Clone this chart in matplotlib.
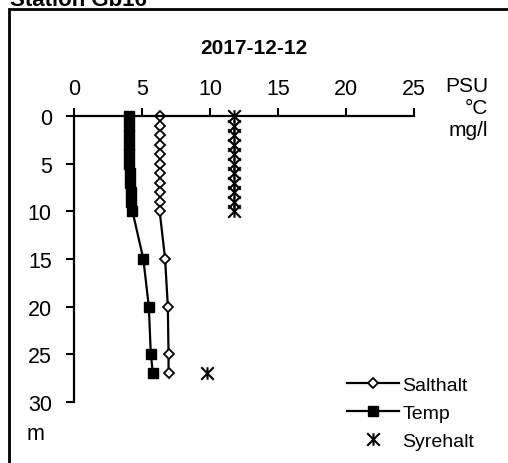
import matplotlib
matplotlib.use("Agg")
import matplotlib.pyplot as plt
from matplotlib.path import Path
from matplotlib.patches import Rectangle

plt.rcParams['font.family'] = ['Liberation Sans', 'DejaVu Sans']

depth = [0, 1, 2, 3, 4, 5, 6, 7, 8, 9, 10, 15, 20, 25, 27]
salthalt = [6.3, 6.3, 6.3, 6.3, 6.3, 6.3, 6.3, 6.3, 6.3, 6.3, 6.3, 6.7, 6.9, 6.95, 6.95]
temp = [4.05, 4.05, 4.05, 4.05, 4.05, 4.05, 4.15, 4.15, 4.2, 4.2, 4.3, 5.1, 5.5, 5.65, 5.8]
oxy_depth = [0, 1, 2, 3, 4, 5, 6, 7, 8, 9, 10, 27]
syrehalt = [11.8, 11.8, 11.8, 11.8, 11.8, 11.8, 11.8, 11.8, 11.8, 11.8, 11.8, 9.8]

xticks = [0, 5, 10, 15, 20, 25]
yticks = [0, 5, 10, 15, 20, 25, 30]
title = "2017-12-12"
station = "Station Gb16"

star = Path([(-1, -1), (1, 1), (-1, 1), (1, -1), (0, -1), (0, 1)],
            [Path.MOVETO, Path.LINETO, Path.MOVETO, Path.LINETO, Path.MOVETO, Path.LINETO])

W, H = 508, 464
fig = plt.figure(figsize=(W / 100, H / 100), dpi=100)
ax = fig.add_axes([74 / W, 1 - 403 / H, (414 - 74) / W, (403 - 117) / H])

ax.plot(salthalt, depth, color='black', lw=1.6, marker='D', ms=5,
        mfc='white', mec='black', mew=1.3, label='Salthalt', clip_on=False)
ax.plot(temp, depth, color='black', lw=1.6, marker='s', ms=7.5,
        mfc='black', mec='black', label='Temp', clip_on=False)
ax.plot(syrehalt, oxy_depth, linestyle='none', marker=star, ms=9,
        mfc='none', mec='black', mew=1.5, label='Syrehalt', clip_on=False)

ax.set_xlim(0, 25)
ax.set_ylim(30, 0)
ax.xaxis.tick_top()
ax.set_xticks(xticks)
ax.set_yticks(yticks)
ax.tick_params(axis='both', direction='out', length=6, width=1.5, labelsize=15.5)
ax.tick_params(axis='x', pad=6)
ax.tick_params(axis='y', pad=10)
for s in ['right', 'bottom']:
    ax.spines[s].set_visible(False)
for s in ['top', 'left']:
    ax.spines[s].set_linewidth(1.6)

fig.text(254 / W, 1 - 48 / H, title, ha='center', va='center', fontsize=15, fontweight='bold')
fig.text(488 / W, 1 - 77 / H, "PSU\n°C\nmg/l", ha='right', va='top', fontsize=15,
         linespacing=1.2, multialignment='right')
fig.text(27 / W, 1 - 435 / H, "m", ha='left', va='center', fontsize=15.5)
fig.text(10 / W, 1 - 6 / H, station, ha='left', va='baseline', fontsize=16, fontweight='bold')

fig.patches.append(Rectangle((9 / W, -0.1), 1.2, 1 - 10 / H + 0.1, transform=fig.transFigure,
                             fill=False, edgecolor='black', lw=2, figure=fig))

leg = ax.legend(loc='lower left', bbox_to_anchor=(337 / W, 1 - 461 / H), bbox_transform=fig.transFigure,
                frameon=False, fontsize=14, handlelength=2.7, handletextpad=0.15,
                labelspacing=0.55, borderpad=0)

fig.savefig('out.png', dpi=100)
